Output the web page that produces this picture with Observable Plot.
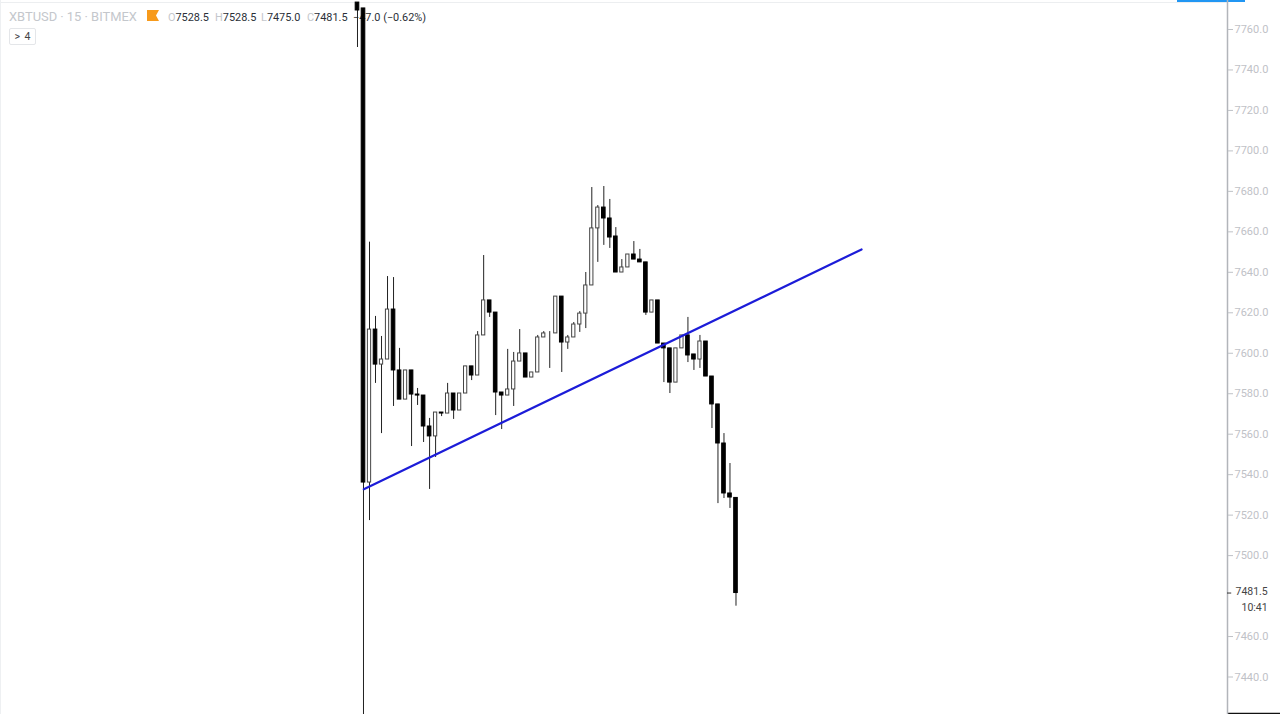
<!DOCTYPE html>
<html>
<head>
<meta charset="utf-8">
<script src="https://cdn.jsdelivr.net/npm/d3@7"></script>
<script src="https://cdn.jsdelivr.net/npm/@observablehq/plot@0.6"></script>
<style>
html,body{margin:0;padding:0;background:#fff;width:1280px;height:714px;overflow:hidden;font-family:Roboto,sans-serif}
#wrap{position:relative;width:1280px;height:714px}
#head{position:absolute;left:0;top:0;width:1280px;height:60px;z-index:1}
#head span{position:absolute;white-space:nowrap}
#chart{position:absolute;left:0;top:0;z-index:2}
#chart svg{background:transparent}
.sym{left:9px;top:9px;font-size:12.9px;color:#c4c7cc}
.flag{left:147px;top:10px;width:12px;height:11px;background:#f79a1b;clip-path:polygon(0 0,100% 0,75% 50%,100% 100%,0 100%)}
.ohlc{top:11px;font-size:10.9px;color:#2b2f38}
.ohlc i{font-style:normal;color:#c4c7cc}
.box{left:9px;top:28px;width:25px;height:15px;border:1px solid #e4e6e9;border-radius:2px;font-size:10.5px;line-height:15px;text-align:center;color:#444;word-spacing:2px}
.top{left:0;top:2px;width:1227px;height:1px;background:#eceef0}
.blue{left:1177px;top:0;width:68px;height:2px;background:#2196f3}
.side{left:0;top:0;width:1px;height:714px;background:#eef0f2}
</style>
</head>
<body>
<div id="wrap">
<div id="head">
<span class="top"></span><span class="blue"></span><span class="side"></span>
<span class="sym">XBTUSD · 15 · BITMEX</span>
<span class="flag"></span>
<span class="ohlc" style="left:168px"><i>O</i>7528.5</span>
<span class="ohlc" style="left:215px"><i>H</i>7528.5</span>
<span class="ohlc" style="left:261px"><i>L</i>7475.0</span>
<span class="ohlc" style="left:307px"><i>C</i>7481.5</span>
<span class="ohlc" style="left:353px">−47.0 (−0.62%)</span>
<span class="box">&gt; 4</span>
</div>
<div id="chart"></div>
</div>
<script>
const opens  = [7773.3,7770.4,7536.1,7611.7,7594.4,7596.9,7621.6,7591.5,7577.1,7591.5,7579.6,7579.1,7563.8,7558.9,7570.7,7570.2,7580.1,7571.7,7580.1,7593.5,7589,7608.8,7626.1,7620.1,7580.6,7579.1,7582.1,7595.9,7599.9,7588,7590.5,7607.8,7610.3,7609.8,7628,7605.3,7607.8,7614.2,7619.6,7633.5,7661.7,7672,7666.6,7657.7,7639.9,7642.4,7648.8,7646.3,7644.9,7620.1,7626.1,7604.8,7602.4,7585.5,7602.4,7608.8,7599.4,7596.9,7605.8,7588.5,7574.7,7555.4,7530.7,7528.5];
const closes = [7769.4,7536.1,7611.7,7594.4,7596.9,7621.6,7591.5,7577.1,7591.5,7579.6,7579.1,7563.8,7558.9,7570.7,7570.2,7580.1,7571.7,7580.1,7593.5,7589,7608.8,7626.1,7620.1,7580.6,7579.1,7582.1,7595.9,7599.9,7588,7590.5,7607.8,7609.8,7610.3,7628,7605.3,7607.8,7614.2,7619.6,7633.5,7661.7,7672,7666.6,7657.2,7639.9,7642.4,7648.8,7646.3,7644.9,7620.1,7626.1,7604.8,7602.4,7585.5,7602.4,7608.8,7598.9,7596.9,7605.8,7588.5,7574.7,7555.4,7530.7,7528.7,7481.5];
const highs  = [7773.3,7770.4,7654.9,7618.2,7608.3,7637.9,7637.4,7602.4,7591.5,7591.5,7582.6,7579.1,7567.8,7570.7,7570.7,7585.1,7580.1,7580.1,7593.5,7593.5,7610.7,7648.3,7626.1,7620.1,7580.6,7601.9,7600.4,7611.7,7599.9,7590.5,7608.8,7610.7,7610.7,7628,7628,7608.8,7615.2,7620.6,7639.9,7681.9,7673,7682.4,7676,7662.1,7646.3,7648.8,7655.2,7651.3,7644.9,7626.1,7626.1,7604.8,7602.4,7602.4,7608.8,7617.7,7599.4,7608.8,7605.8,7588.5,7574.7,7560.3,7545.5,7528.5];
const lows   = [7751.1,7400,7517.3,7585.1,7560.3,7596.9,7573.7,7577.1,7577.1,7553.9,7574.2,7555.9,7532.7,7548.5,7568.7,7570.2,7567.3,7571.7,7580.1,7586.5,7589,7608.8,7617.7,7569.2,7562.3,7579.1,7573.7,7595.9,7588,7588,7590.5,7607.8,7592.5,7609.8,7590.5,7601.9,7607.8,7610.3,7612.2,7633.5,7644.9,7653.3,7651.8,7639.9,7639.9,7642.4,7646.3,7644.9,7618.7,7620.1,7604.8,7585.5,7580.1,7585.5,7602.4,7595.4,7591.5,7592.5,7588.5,7562.8,7525.7,7528.2,7523.3,7475];
const yTicks = [7440,7460,7500,7520,7540,7560,7580,7600,7620,7640,7660,7680,7700,7720,7740,7760];
const trendX = [1.05, 83.9];
const trendY = [7532.8, 7651.3];
const lastPrice = 7481.5;
const countdown = "10:41";

const candles = opens.map((o,i)=>({i,o,c:closes[i],h:highs[i],l:lows[i]}));
const xMin = -59.42, xMax = 144.81;
const isUp = d => d.c >= d.o;
const half = d => isUp(d) ? 0.27 : 0.3;

const plot = Plot.plot({
  width:1280, height:714,
  marginLeft:0, marginRight:53, marginTop:0, marginBottom:0,
  x:{domain:[xMin,xMax], axis:null},
  y:{domain:[7421.47,7774.33], axis:null},
  style:{background:"transparent", fontFamily:"Roboto, sans-serif"},
  marks:[
    Plot.ruleY([7422],{x1:xMax,x2:xMax+9,stroke:"#111",strokeWidth:1.5,clip:false}),
    Plot.ruleX([xMax],{stroke:"#b2b5ba",strokeWidth:1.5,clip:false}),
    Plot.axisY({anchor:"right",ticks:yTicks,tickSize:5,tickPadding:2,
      tickFormat:d=>d.toFixed(1),fontSize:11,color:"#bfc2c7",stroke:"#bfc2c7"}),
    Plot.ruleX(candles,{x:"i",y1:"l",y2:"h",stroke:"#222",strokeWidth:1,clip:true}),
    Plot.rect(candles,{x1:d=>d.i-half(d),x2:d=>d.i+half(d),
      y1:d=>Math.min(d.o,d.c),y2:d=>Math.max(d.o,d.c),
      fill:d=>isUp(d)?"#fff":"#000",stroke:d=>isUp(d)?"#444":"#000",strokeWidth:1,clip:true}),
    Plot.line(trendX.map((x,k)=>({x,y:trendY[k]})),{x:"x",y:"y",stroke:"#1c1cd8",strokeWidth:2.2}),
    Plot.ruleY([lastPrice],{x1:xMax,x2:xMax+0.7,stroke:"#333",strokeWidth:1,clip:false}),
    Plot.text([lastPrice],{x:xMax,y:d=>d,dy:-1,text:d=>d.toFixed(1),textAnchor:"start",dx:8,fontSize:10.5,fill:"#444",clip:false}),
    Plot.text([lastPrice],{x:xMax,y:d=>d,text:()=>countdown,textAnchor:"start",dx:14,dy:15,fontSize:10.5,fill:"#444",clip:false})
  ]
});
document.getElementById("chart").appendChild(plot);
</script>
</body>
</html>
